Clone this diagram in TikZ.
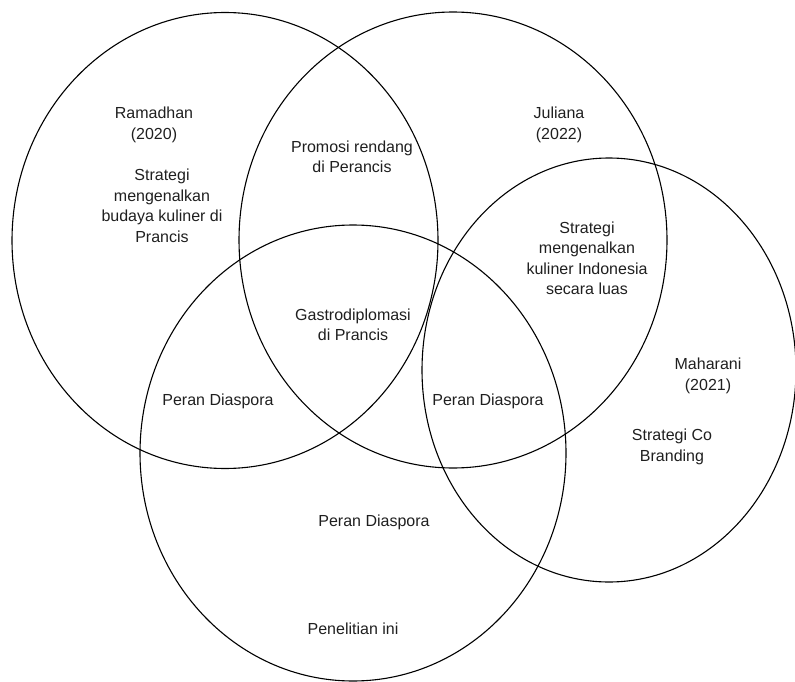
\documentclass[tikz,border=0pt]{standalone}
\usepackage{fontspec}
\setmainfont{Liberation Sans}
\begin{document}
\begin{tikzpicture}[x=1pt,y=-1pt,
  ring/.style={draw=black,line width=1.1pt},
  lbl/.style={inner sep=0pt,align=center,text=black!88,font=\fontsize{16}{20.5}\selectfont}]
\useasboundingbox (0,0) rectangle (795,682);
\draw[ring] (225,240.5) ellipse [x radius=213,y radius=228];
\draw[ring] (453,240) ellipse [x radius=214,y radius=228];
\draw[ring] (609,370) ellipse [x radius=187,y radius=212];
\draw[ring] (353,453) ellipse [x radius=213,y radius=228];
\node[lbl] (ram) at (154,125) {Ramadhan\\(2020)};
\node[lbl] (ramtxt) at (162,206) {Strategi\\mengenalkan\\budaya kuliner di\\Prancis};
\node[lbl] (promo) at (352,157) {Promosi rendang\\di Perancis};
\node[lbl] (jul) at (559,125) {Juliana\\(2022)};
\node[lbl] (jultxt) at (587,258.5) {Strategi\\mengenalkan\\kuliner Indonesia\\secara luas};
\node[lbl] (gastro) at (353,325) {Gastrodiplomasi\\di Prancis};
\node[lbl] (pd1) at (218,401) {Peran Diaspora};
\node[lbl] (pd2) at (488,401) {Peran Diaspora};
\node[lbl] (mah) at (708,376) {Maharani\\(2021)};
\node[lbl] (mahtxt) at (672,447) {Strategi Co\\Branding};
\node[lbl] (pd3) at (374,522) {Peran Diaspora};
\node[lbl] (pen) at (353,629) {Penelitian ini};
\end{tikzpicture}
\end{document}
